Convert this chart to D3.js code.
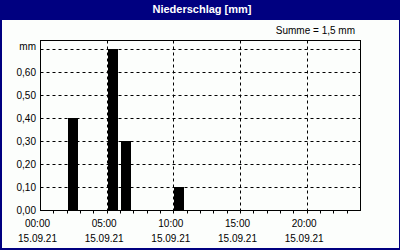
<!DOCTYPE html>
<html><head><meta charset="utf-8">
<script src="https://cdn.jsdelivr.net/npm/d3@7"></script>
<style>html,body{margin:0;padding:0;background:#fff;}svg{display:block;}</style>
</head><body>
<svg id="c" width="400" height="250"></svg>
<script>
const title = "Niederschlag [mm]";
const sumLabel = "Summe = 1,5 mm";
const unitLabel = "mm";
const hours = [2, 5, 6, 10];
const values = [0.4, 0.7, 0.3, 0.1];
const yTicks = [0, 0.1, 0.2, 0.3, 0.4, 0.5, 0.6];
const xMajor = [0, 5, 10, 15, 20];
const xTimeLabels = ["00:00", "05:00", "10:00", "15:00", "20:00"];
const dateLabel = "15.09.21";

const svg = d3.select("#c");
const font = "'Liberation Sans', Arial, sans-serif";
const navy = "#000080";

svg.append("rect").attr("width", 400).attr("height", 250).attr("fill", navy);
svg.append("rect").attr("x", 2).attr("y", 20).attr("width", 397).attr("height", 228).attr("fill", "#fcfefc");

svg.append("text").attr("x", 202).attr("y", 13).attr("text-anchor", "middle")
  .attr("fill", "#fff").attr("font-family", font).attr("font-weight", "bold").attr("font-size", 11)
  .text(title);

svg.append("text").attr("x", 355).attr("y", 34).attr("text-anchor", "end")
  .attr("fill", "#000").attr("font-family", font).attr("font-size", 10).text(sumLabel);

const x = d3.scaleLinear().domain([0, 24]).range([41, 361]);
const y = d3.scaleLinear().domain([0, 0.74]).range([210, 40]);
const L = 40.5, R = 360.5, T = 40.5, B = 210.5;

// horizontal grid
svg.append("g").selectAll("line").data(yTicks.filter(d => d > 0).concat([0.7])).join("line")
  .attr("x1", L).attr("x2", R)
  .attr("y1", d => Math.round(y(d)) + 0.5).attr("y2", d => Math.round(y(d)) + 0.5)
  .attr("stroke", "#000").attr("stroke-dasharray", "3,3");

// vertical grid
svg.append("g").selectAll("line").data(xMajor.filter(d => d > 0)).join("line")
  .attr("y1", T).attr("y2", B)
  .attr("x1", d => Math.round(x(d)) - 0.5).attr("x2", d => Math.round(x(d)) - 0.5)
  .attr("stroke", "#000").attr("stroke-dasharray", "3,3");

// bars
svg.append("g").selectAll("rect").data(hours.map((h, i) => ({h, v: values[i]}))).join("rect")
  .attr("x", d => Math.round(x(d.h)))
  .attr("width", d => Math.round(x(d.h + 0.75)) - Math.round(x(d.h)))
  .attr("y", d => Math.round(y(d.v)))
  .attr("height", d => 210 - Math.round(y(d.v)))
  .attr("fill", "#000");

// frame
svg.append("rect").attr("x", L).attr("y", T).attr("width", R - L).attr("height", B - T)
  .attr("fill", "none").attr("stroke", "#000");

// hourly ticks
svg.append("g").selectAll("line").data(d3.range(1, 24)).join("line")
  .attr("x1", d => Math.round(x(d)) - 0.5).attr("x2", d => Math.round(x(d)) - 0.5)
  .attr("y1", B).attr("y2", B + 3).attr("stroke", "#000");

// y labels
const fmt = d => d.toFixed(2).replace(".", ",");
svg.append("g").selectAll("text").data(yTicks).join("text")
  .attr("x", 36).attr("y", d => Math.round(y(d)) + 4).attr("text-anchor", "end")
  .attr("font-family", font).attr("font-size", 10).attr("fill", "#000").text(fmt);
svg.append("text").attr("x", 36).attr("y", Math.round(y(0.7)) + 1).attr("text-anchor", "end")
  .attr("font-family", font).attr("font-size", 10).attr("fill", "#000").text(unitLabel);

// x labels
const xl = svg.append("g");
xl.selectAll("text.t").data(xMajor).join("text").attr("class", "t")
  .attr("x", d => x(d) - 3.5).attr("y", 227).attr("text-anchor", "middle")
  .attr("font-family", font).attr("font-size", 10).attr("fill", "#000")
  .text((d, i) => xTimeLabels[i]);
xl.selectAll("text.d").data(xMajor).join("text").attr("class", "d")
  .attr("x", d => x(d) - 3.5).attr("y", 242).attr("text-anchor", "middle")
  .attr("font-family", font).attr("font-size", 10).attr("fill", "#000")
  .text(dateLabel);
</script>
</body></html>
